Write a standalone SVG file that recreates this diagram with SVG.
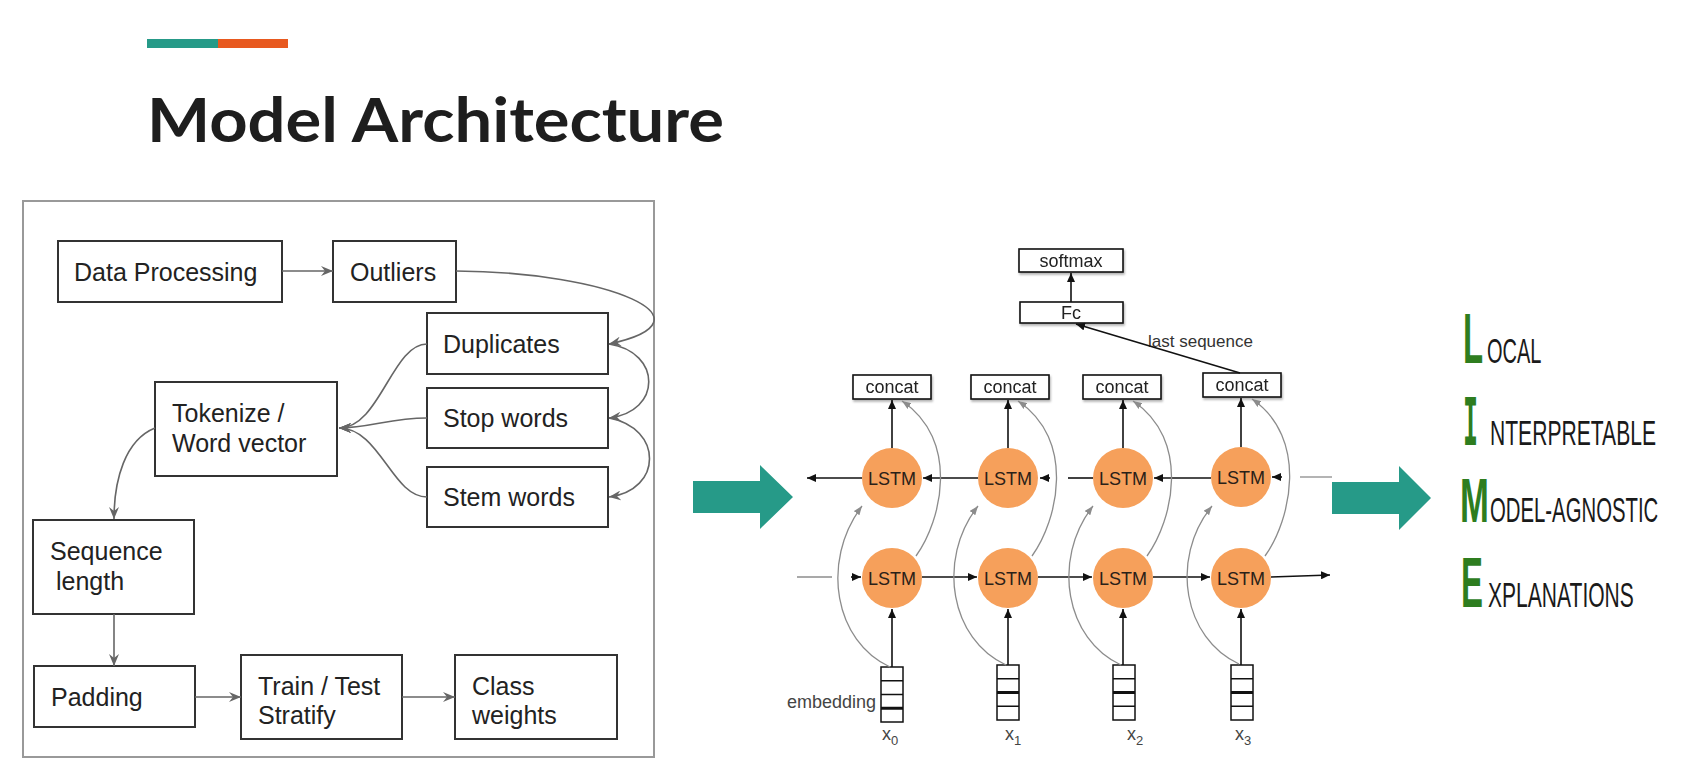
<svg xmlns="http://www.w3.org/2000/svg" width="1706" height="784" viewBox="0 0 1706 784">
  <defs>
    <style>
      .box { fill: #ffffff; stroke: #333333; stroke-width: 2; }
      .lbl { font-family: "Liberation Sans", Arial, sans-serif; font-size: 25px; fill: #222222; }
      .flow { fill: none; stroke: #666666; stroke-width: 1.6; }
      .nbox { fill: #ffffff; stroke: #111111; stroke-width: 1.6; }
      .ntxt { font-family: "Liberation Sans", Arial, sans-serif; font-size: 18px; fill: #222222; text-anchor: middle; }
      .cell { fill: #ffffff; stroke: #111111; stroke-width: 1.5; }
      .lstm { fill: #f6a05b; }
      .ltxt { font-family: "Liberation Sans", Arial, sans-serif; font-size: 18px; fill: #2a2118; text-anchor: middle; }
      .blk { fill: none; stroke: #111111; stroke-width: 1.6; }
      .gry { fill: none; stroke: #8c8c8c; stroke-width: 1.3; }
      .small { font-family: "Liberation Sans", Arial, sans-serif; font-size: 18px; fill: #444444; }
      .cap { font-family: "Liberation Sans", Arial, sans-serif; font-weight: 700; fill: #2e7d1f; }
      .rest { font-family: "Liberation Sans", Arial, sans-serif; font-size: 36px; fill: #1a1a1a; }
      .teal { fill: #269a88; }
    </style>
    <marker id="stealth" viewBox="0 0 12 10" refX="12" refY="5" markerWidth="12" markerHeight="10" markerUnits="userSpaceOnUse" orient="auto">
      <path d="M0,0 L12,5 L0,10 L4,5 z" fill="#666666"/>
    </marker>
    <marker id="tipB" viewBox="0 0 9 8" refX="9" refY="4" markerWidth="9" markerHeight="8" markerUnits="userSpaceOnUse" orient="auto">
      <path d="M0,0 L9,4 L0,8 z" fill="#111111"/>
    </marker>
    <marker id="tipG" viewBox="0 0 9 7" refX="9" refY="3.5" markerWidth="9" markerHeight="7" markerUnits="userSpaceOnUse" orient="auto">
      <path d="M0,0 L9,3.5 L0,7 z" fill="#8c8c8c"/>
    </marker>
    <filter id="shadow" x="-10%" y="-30%" width="130%" height="180%">
      <feDropShadow dx="1" dy="2" stdDeviation="1.2" flood-color="#000000" flood-opacity="0.3"/>
    </filter>
  </defs>

  <rect width="1706" height="784" fill="#ffffff"/>

  <!-- heading -->
  <g id="heading">
    <rect x="147" y="39" width="71" height="9" fill="#269a88"/>
    <rect x="218" y="39" width="70" height="9" fill="#e8591f"/>
    <text x="147" y="142" font-family="Lato, 'Open Sans', sans-serif" font-weight="700" font-size="62" fill="#1e1e1e" textLength="577" lengthAdjust="spacingAndGlyphs">Model Architecture</text>
  </g>

  <!-- preprocessing pipeline -->
  <g id="pipeline">
    <rect id="pipeline-frame" x="23" y="201" width="631" height="556" fill="none" stroke="#999999" stroke-width="2"/>

    <g id="data-processing">
      <rect class="box" x="58" y="241" width="224" height="61"/>
      <text class="lbl" x="74" y="281">Data Processing</text>
    </g>
    <g id="outliers">
      <rect class="box" x="333" y="241" width="123" height="61"/>
      <text class="lbl" x="350" y="281">Outliers</text>
    </g>
    <g id="duplicates">
      <rect class="box" x="427" y="313" width="181" height="61"/>
      <text class="lbl" x="443" y="353">Duplicates</text>
    </g>
    <g id="stop-words">
      <rect class="box" x="427" y="388" width="181" height="60"/>
      <text class="lbl" x="443" y="427">Stop words</text>
    </g>
    <g id="stem-words">
      <rect class="box" x="427" y="467" width="181" height="60"/>
      <text class="lbl" x="443" y="506">Stem words</text>
    </g>
    <g id="tokenize">
      <rect class="box" x="155" y="382" width="182" height="94"/>
      <text class="lbl" x="172" y="422">Tokenize /</text>
      <text class="lbl" x="172" y="452">Word vector</text>
    </g>
    <g id="sequence-length">
      <rect class="box" x="33" y="520" width="161" height="94"/>
      <text class="lbl" x="50" y="560">Sequence</text>
      <text class="lbl" x="56" y="590">length</text>
    </g>
    <g id="padding">
      <rect class="box" x="34" y="666" width="161" height="61"/>
      <text class="lbl" x="51" y="706">Padding</text>
    </g>
    <g id="train-test">
      <rect class="box" x="241" y="655" width="161" height="84"/>
      <text class="lbl" x="258" y="695">Train / Test</text>
      <text class="lbl" x="258" y="724">Stratify</text>
    </g>
    <g id="class-weights">
      <rect class="box" x="455" y="655" width="162" height="84"/>
      <text class="lbl" x="472" y="695">Class</text>
      <text class="lbl" x="472" y="724">weights</text>
    </g>

    <g id="pipeline-connectors" marker-end="url(#stealth)">
      <path class="flow" d="M282,271 L333,271"/>
      <path class="flow" d="M456,271 C610,272 720,320 609,344"/>
      <path class="flow" d="M609,344 C662,352 662,412 609,418"/>
      <path class="flow" d="M609,418 C663,428 663,490 609,497"/>
      <path class="flow" d="M427,344 C392,344 380,428 339,428"/>
      <path class="flow" d="M427,418 C390,418 370,428 339,428"/>
      <path class="flow" d="M427,497 C392,497 380,428 339,428"/>
      <path class="flow" d="M155,428 C125,440 114,480 114,519"/>
      <path class="flow" d="M114,614 L114,666"/>
      <path class="flow" d="M195,697 L241,697"/>
      <path class="flow" d="M402,697 L455,697"/>
    </g>
  </g>

  <!-- arrows between panels -->
  <g id="arrow-in">
    <path class="teal" d="M693,481 L760,481 L760,465 L793,497 L760,529 L760,513 L693,513 z"/>
  </g>
  <g id="arrow-out">
    <path class="teal" d="M1332,482 L1399,482 L1399,466 L1431,498 L1399,530 L1399,514 L1332,514 z"/>
  </g>

  <!-- bidirectional LSTM -->
  <g id="bilstm">
    <g id="softmax" filter="url(#shadow)">
      <rect class="nbox" x="1019" y="249" width="104" height="23"/>
      <text class="ntxt" x="1071" y="267">softmax</text>
    </g>
    <g id="fc" filter="url(#shadow)">
      <rect class="nbox" x="1020" y="302" width="103" height="21"/>
      <text class="ntxt" x="1071" y="319">Fc</text>
    </g>

    <g id="concat-0" filter="url(#shadow)">
      <rect class="nbox" x="853" y="375" width="78" height="24"/>
      <text class="ntxt" x="892" y="393">concat</text>
    </g>
    <g id="concat-1" filter="url(#shadow)">
      <rect class="nbox" x="971" y="375" width="78" height="24"/>
      <text class="ntxt" x="1010" y="393">concat</text>
    </g>
    <g id="concat-2" filter="url(#shadow)">
      <rect class="nbox" x="1083" y="375" width="78" height="24"/>
      <text class="ntxt" x="1122" y="393">concat</text>
    </g>
    <g id="concat-3" filter="url(#shadow)">
      <rect class="nbox" x="1203" y="373" width="78" height="24"/>
      <text class="ntxt" x="1242" y="391">concat</text>
    </g>

    <g id="lstm-back-0"><circle class="lstm" cx="892" cy="478" r="30"/><text class="ltxt" x="892" y="485">LSTM</text></g>
    <g id="lstm-back-1"><circle class="lstm" cx="1008" cy="478" r="30"/><text class="ltxt" x="1008" y="485">LSTM</text></g>
    <g id="lstm-back-2"><circle class="lstm" cx="1123" cy="478" r="30"/><text class="ltxt" x="1123" y="485">LSTM</text></g>
    <g id="lstm-back-3"><circle class="lstm" cx="1241" cy="477" r="30"/><text class="ltxt" x="1241" y="484">LSTM</text></g>

    <g id="lstm-fwd-0"><circle class="lstm" cx="892" cy="578" r="30"/><text class="ltxt" x="892" y="585">LSTM</text></g>
    <g id="lstm-fwd-1"><circle class="lstm" cx="1008" cy="578" r="30"/><text class="ltxt" x="1008" y="585">LSTM</text></g>
    <g id="lstm-fwd-2"><circle class="lstm" cx="1123" cy="578" r="30"/><text class="ltxt" x="1123" y="585">LSTM</text></g>
    <g id="lstm-fwd-3"><circle class="lstm" cx="1241" cy="578" r="30"/><text class="ltxt" x="1241" y="585">LSTM</text></g>

    <g id="embedding-0">
      <rect class="cell" x="881" y="667" width="22" height="55"/>
      <path class="blk" d="M881,680.75 H903 M881,694.5 H903"/>
      <path stroke="#111111" stroke-width="3" d="M881,708.25 H903"/>
    </g>
    <g id="embedding-1">
      <rect class="cell" x="997" y="665" width="22" height="55"/>
      <path class="blk" d="M997,678.75 H1019 M997,706.25 H1019"/>
      <path stroke="#111111" stroke-width="3" d="M997,692.5 H1019"/>
    </g>
    <g id="embedding-2">
      <rect class="cell" x="1113" y="665" width="22" height="55"/>
      <path class="blk" d="M1113,678.75 H1135 M1113,706.25 H1135"/>
      <path stroke="#111111" stroke-width="3" d="M1113,692.5 H1135"/>
    </g>
    <g id="embedding-3">
      <rect class="cell" x="1231" y="665" width="22" height="55"/>
      <path class="blk" d="M1231,678.75 H1253 M1231,706.25 H1253"/>
      <path stroke="#111111" stroke-width="3" d="M1231,692.5 H1253"/>
    </g>

    <g id="bilstm-labels">
      <text class="small" x="787" y="708">embedding</text>
      <text class="small" x="882" y="740">x<tspan font-size="13" dy="5">0</tspan></text>
      <text class="small" x="1005" y="740">x<tspan font-size="13" dy="5">1</tspan></text>
      <text class="small" x="1127" y="740">x<tspan font-size="13" dy="5">2</tspan></text>
      <text class="small" x="1235" y="740">x<tspan font-size="13" dy="5">3</tspan></text>
      <text x="1148" y="347" font-family="'Liberation Sans', Arial, sans-serif" font-size="17" fill="#333333">last sequence</text>
    </g>

    <g id="bilstm-connectors">
      <!-- output head -->
      <path class="blk" d="M1071,302 L1071,273" marker-end="url(#tipB)"/>
      <path class="blk" d="M1240,373 L1076,324" marker-end="url(#tipB)"/>

      <!-- backward row, right to left -->
      <path class="blk" d="M862,478 L807,478" marker-end="url(#tipB)"/>
      <path class="blk" d="M978,478 L923,478" marker-end="url(#tipB)"/>
      <path class="blk" d="M1093,478 L1068,478"/>
      <path class="blk" d="M1050,478 L1040,478" marker-end="url(#tipB)"/>
      <path class="blk" d="M1211,478 L1154,478" marker-end="url(#tipB)"/>
      <path class="gry" d="M1332,477 L1300,477" stroke="#777777"/>
      <path class="blk" d="M1282,477 L1272,477" marker-end="url(#tipB)"/>

      <!-- forward row, left to right -->
      <path class="gry" d="M797,577 L832,577" stroke="#555555"/>
      <path class="blk" d="M851,577 L861,577" marker-end="url(#tipB)"/>
      <path class="blk" d="M922,577 L977,577" marker-end="url(#tipB)"/>
      <path class="blk" d="M1038,577 L1092,577" marker-end="url(#tipB)"/>
      <path class="blk" d="M1153,577 L1210,577" marker-end="url(#tipB)"/>
      <path class="blk" d="M1271,577 L1330,575" marker-end="url(#tipB)"/>

      <!-- embeddings into forward cells, backward cells into concat -->
      <g marker-end="url(#tipB)">
        <path class="blk" d="M892,667 L892,609"/>
        <path class="blk" d="M1008,665 L1008,609"/>
        <path class="blk" d="M1123,665 L1123,609"/>
        <path class="blk" d="M1241,665 L1241,609"/>
        <path class="blk" d="M892,448 L892,400"/>
        <path class="blk" d="M1008,448 L1008,400"/>
        <path class="blk" d="M1123,448 L1123,400"/>
        <path class="blk" d="M1241,447 L1241,398"/>
      </g>

      <!-- embeddings into backward cells -->
      <g marker-end="url(#tipG)">
        <path class="gry" d="M890,667 C835,642 820,562 862,506"/>
        <path class="gry" d="M1006,665 C951,640 936,560 978,506"/>
        <path class="gry" d="M1121,665 C1066,640 1051,560 1093,506"/>
        <path class="gry" d="M1239,664 C1184,639 1169,559 1212,506"/>
      </g>

      <!-- forward cells into concat -->
      <g marker-end="url(#tipG)">
        <path class="gry" d="M916,556 C942,520 960,440 902,401"/>
        <path class="gry" d="M1032,556 C1058,520 1076,440 1018,401"/>
        <path class="gry" d="M1147,556 C1173,520 1191,440 1133,401"/>
        <path class="gry" d="M1265,556 C1291,520 1309,438 1252,399"/>
      </g>
    </g>
  </g>

  <!-- LIME acronym: narrow lettering made by squeezing the glyphs horizontally -->
  <g id="lime">
    <g id="lime-local">
      <text class="cap" font-size="70" transform="translate(1463,363) scale(0.47,1)">L</text>
      <text class="rest" font-size="37" transform="translate(1487,363) scale(0.555,1)">OCAL</text>
    </g>
    <g id="lime-interpretable">
      <text font-family="'DejaVu Sans Mono', monospace" font-weight="700" font-size="66" fill="#2e7d1f" transform="translate(1463,445) scale(0.38,1)">I</text>
      <text class="rest" font-size="35" transform="translate(1490,445) scale(0.586,1)">NTERPRETABLE</text>
    </g>
    <g id="lime-model-agnostic">
      <text class="cap" font-size="63" transform="translate(1460,522) scale(0.55,1)">M</text>
      <text class="rest" font-size="35" transform="translate(1490,522) scale(0.565,1)">ODEL-AGNOSTIC</text>
    </g>
    <g id="lime-explanations">
      <text class="cap" font-size="70" transform="translate(1461,607) scale(0.47,1)">E</text>
      <text class="rest" font-size="37" transform="translate(1488,607) scale(0.585,1)">XPLANATIONS</text>
    </g>
  </g>
</svg>
